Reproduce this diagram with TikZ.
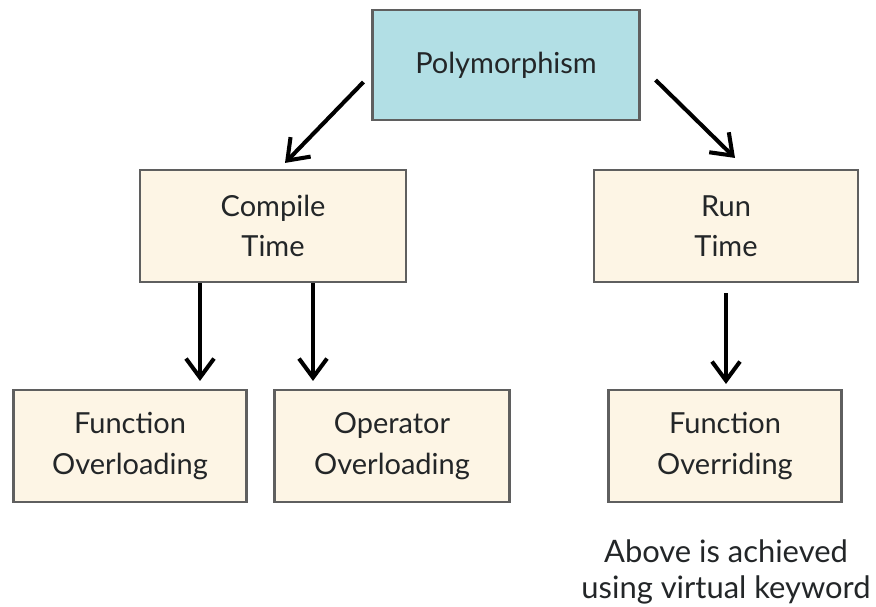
\documentclass[tikz,border=0pt]{standalone}
\usepackage{fontspec}
\setmainfont{Lato}
\usepackage{xcolor}
\usetikzlibrary{positioning,arrows.meta}
\definecolor{polyfill}{RGB}{178,223,229}
\definecolor{boxfill}{RGB}{253,245,229}
\definecolor{boxline}{RGB}{95,95,95}
\definecolor{ink}{RGB}{35,38,40}

\tikzset{
  box/.style={draw=boxline,line width=1.2pt,fill=boxfill,align=center,
    minimum width=4.66cm,minimum height=2.24cm,text=ink,
    font=\fontsize{16.5}{23}\selectfont},
  arrow/.style={line width=2.3pt,-{Straight Barb[length=0.38cm,width=0.56cm,line width=2.3pt]}}
}

\begin{document}
\begin{tikzpicture}[x=0.02cm,y=-0.02cm]
\useasboundingbox[fill=white] (0,0) rectangle (876,607);
% Boxes
\node[box,fill=polyfill,minimum width=5.34cm,minimum height=2.2cm] (poly) at (506,65) {Polymorphism}; % top
\node[box,minimum width=5.32cm] (compile) at (273,226) {Compile\\Time};
\node[box,minimum width=5.28cm] (run) at (726,226) {Run\\Time};
\node[box] (funover) at (130,446) {Function\\Overloading}; % bottom left
\node[box,minimum width=4.7cm] (opover) at (392,446) {Operator\\Overloading};
\node[box] (funride) at (725,446) {Function\\Overriding}; % bottom right
% Arrows
\draw[arrow] ([shift={(-8,17)}]poly.west) -- ([shift={(12,-6)}]compile.north);
\draw[arrow] ([shift={(15,15)}]poly.east) -- ([shift={(9,-11)}]run.north);
\draw[arrow] ([shift={(-73,0)}]compile.south) -- ([shift={(70,-8)}]funover.north);
\draw[arrow] ([shift={(40,0)}]compile.south) -- ([shift={(-79,-8)}]opover.north);
\draw[arrow] ([shift={(0,10)}]run.south) -- ([shift={(1,-5)}]funride.north);
% Note
\node[text=ink,align=center,font=\fontsize{17.6}{20}\selectfont] (note) at (726,572) {Above is achieved\\using virtual keyword};
\end{tikzpicture}
\end{document}
